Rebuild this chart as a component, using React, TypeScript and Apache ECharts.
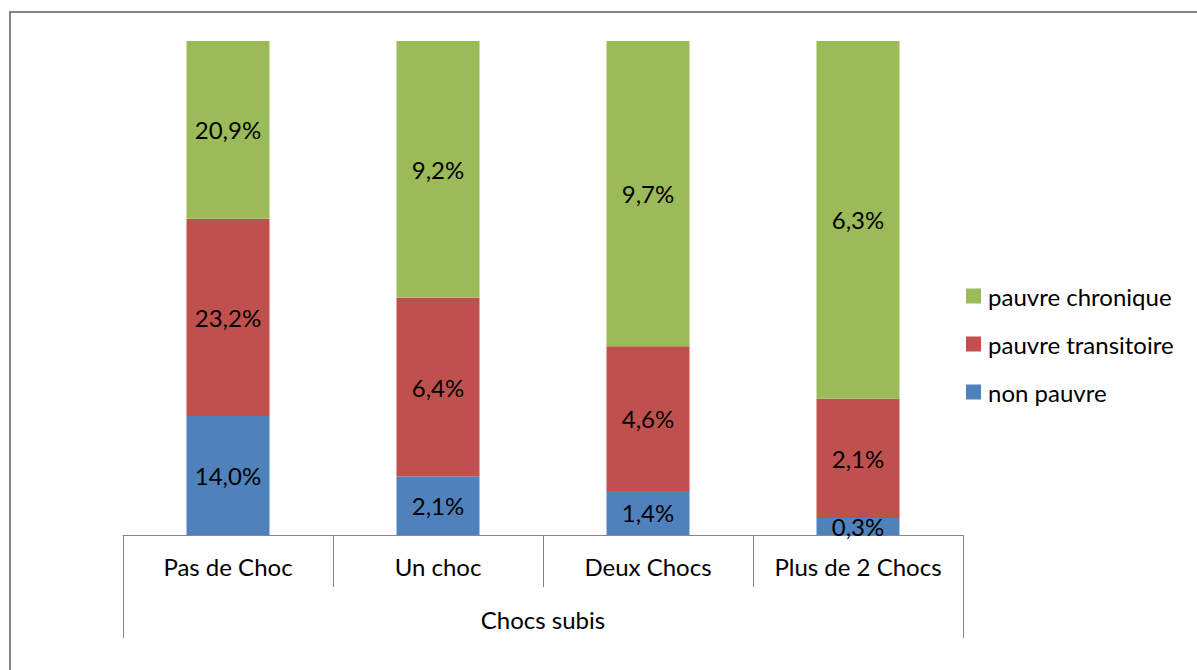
import React, { useEffect, useRef } from "react";
import * as echarts from "echarts";

const categories = ["Pas de Choc", "Un choc", "Deux Chocs", "Plus de 2 Chocs"];
const nonPauvre = [14.0, 2.1, 1.4, 0.3];
const pauvreTransitoire = [23.2, 6.4, 4.6, 2.1];
const pauvreChronique = [20.9, 9.2, 9.7, 6.3];
const axisTitle = "Chocs subis";

const FONT = "Lato";
const FS = 24;

export default function App() {
  const ref = useRef<HTMLDivElement>(null);
  useEffect(() => {
    if (!ref.current) return;
    const chart = echarts.init(ref.current, null, { renderer: "svg" });
    const totals = categories.map(
      (_, i) => nonPauvre[i] + pauvreTransitoire[i] + pauvreChronique[i]
    );
    const fmt = (raw: number[]) => (p: any) =>
      raw[p.dataIndex].toFixed(1).replace(".", ",") + "%";
    const mk = (name: string, raw: number[], color: string) => ({
      name,
      type: "bar",
      stack: "total",
      barWidth: 83,
      xAxisIndex: 0,
      data: raw.map((v, i) => (v / totals[i]) * 100),
      itemStyle: { color },
      label: {
        show: true,
        position: "inside",
        formatter: fmt(raw),
        color: "#000",
        fontFamily: FONT,
        fontSize: FS,
      },
    });
    chart.setOption({
      animation: false,
      backgroundColor: "#fff",
      textStyle: { fontFamily: FONT },
      graphic: [
        {
          type: "rect",
          shape: { x: 10, y: 12, width: 1400, height: 900 },
          style: { fill: "none", stroke: "#868686", lineWidth: 2 },
          silent: true,
        },
      ],
      grid: { left: 123, right: 234, top: 41, bottom: 135, containLabel: false },
      legend: {
        orient: "vertical",
        left: 961,
        top: 279,
        itemWidth: 15,
        itemHeight: 15,
        itemGap: 24,
        icon: "rect",
        data: ["pauvre chronique", "pauvre transitoire", "non pauvre"],
        textStyle: { fontFamily: FONT, fontSize: FS, color: "#000", padding: [0, 0, 0, 2] },
      },
      xAxis: [
        {
          type: "category",
          data: categories,
          position: "bottom",
          axisLine: { show: true, lineStyle: { color: "#868686", width: 1 } },
          axisTick: {
            show: true,
            length: 52,
            interval: 0,
            lineStyle: { color: "#868686", width: 1 },
          },
          axisLabel: {
            interval: 0,
            margin: 19,
            color: "#000",
            fontFamily: FONT,
            fontSize: FS,
          },
        },
        {
          type: "category",
          data: [axisTitle],
          position: "bottom",
          axisLine: { show: false },
          axisTick: {
            show: true,
            length: 103,
            lineStyle: { color: "#868686", width: 1 },
          },
          axisLabel: {
            margin: 72,
            color: "#000",
            fontFamily: FONT,
            fontSize: FS,
          },
        },
      ],
      yAxis: {
        type: "value",
        min: 0,
        max: 100,
        show: false,
        splitLine: { show: false },
      },
      series: [
        mk("non pauvre", nonPauvre, "#4F81BD"),
        mk("pauvre transitoire", pauvreTransitoire, "#C0504D"),
        mk("pauvre chronique", pauvreChronique, "#9BBB59"),
      ],
    });
    return () => chart.dispose();
  }, []);
  return (
    <div
      ref={ref}
      style={{ position: "fixed", left: 0, top: 0, width: 1197, height: 670 }}
    />
  );
}
